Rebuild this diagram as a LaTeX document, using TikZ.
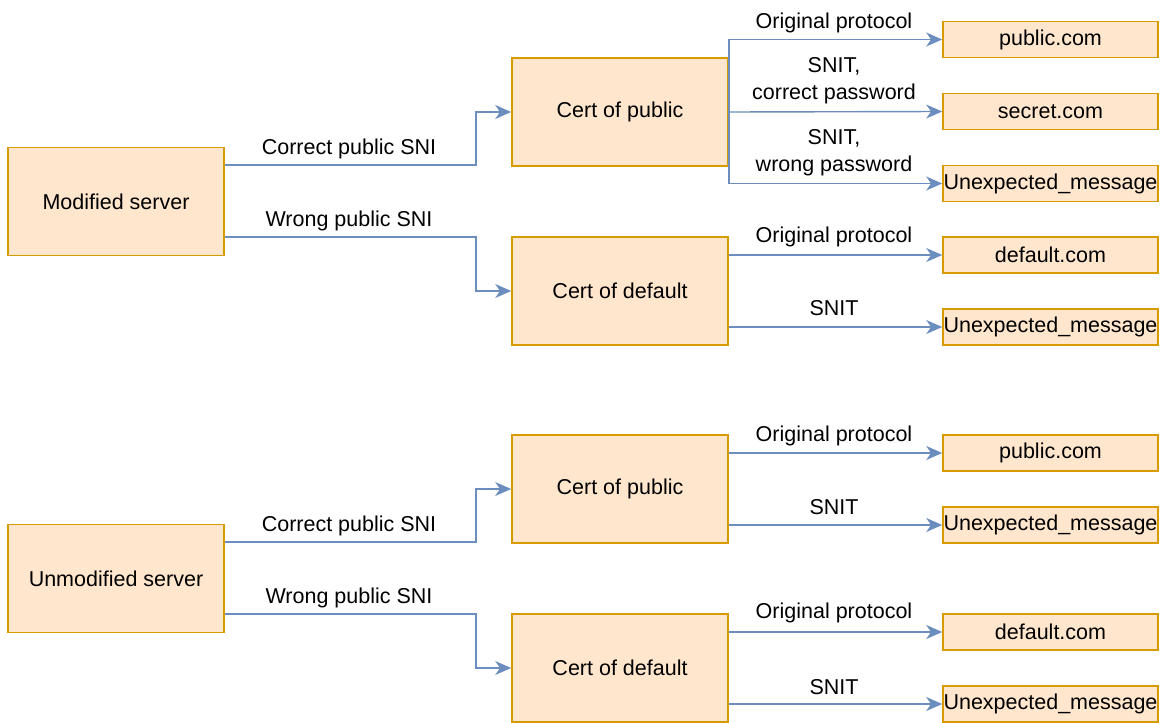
\documentclass[tikz,border=0pt]{standalone}
\usepackage{fontspec}
\setmainfont{Liberation Sans}
\usetikzlibrary{arrows.meta}
\definecolor{boxfill}{HTML}{FFE6CC}
\definecolor{boxline}{HTML}{D79B00}
\definecolor{edgeblue}{HTML}{6C8EBF}
\tikzset{
  box/.style={draw=boxline, fill=boxfill, line width=0.8pt, inner sep=0pt,
    minimum width=108pt, minimum height=54pt},
  leaf/.style={box, minimum width=107.5pt, minimum height=18pt},
  conn/.style={draw=edgeblue, line width=0.7pt,
    -{Stealth[length=8pt, width=7pt, inset=2.4pt]}},
  lbl/.style={inner sep=0pt, align=center}
}
\begin{document}
\begin{tikzpicture}[x=0.5pt, y=-0.5pt,
  every node/.style={font=\fontsize{10.75}{13.5}\selectfont}]
\useasboundingbox (0,0) rectangle (1160,722);

% ---------- modified server ----------
\node[box] (ms)  at (116,201.5) {Modified server};
\node[box] (cp1) at (620,112)   {Cert of public};
\node[box] (cd1) at (620,291)   {Cert of default};
\node[leaf] (pub1) at (1050.5,39.5)  {public.com};
\node[leaf] (sec1) at (1050.5,111.5) {secret.com};
\node[leaf] (unx1) at (1050.5,183.5) {Unexpected\_message};
\node[leaf] (def1) at (1050.5,255)   {default.com};
\node[leaf] (unx2) at (1050.5,327)   {Unexpected\_message};

\draw[conn] (ms.east |- 0,165) -- (476,165) |- (cp1.west);
\draw[conn] (ms.east |- 0,237) -- (476,237) |- (cd1.west);
\draw[conn] (cp1.east) |- (pub1.west);
\draw[conn] (cp1.east) -- (sec1.west);
\draw[conn] (cp1.east) |- (unx1.west);
\draw[conn] (cd1.east |- def1.west) -- (def1.west);
\draw[conn] (cd1.east |- unx2.west) -- (unx2.west);

\node[lbl] (l1) at (349,148.5) {Correct public SNI};
\node[lbl] (l2) at (349,220.5) {Wrong public SNI};
\node[lbl] (l3) at (834,22.5)  {Original protocol};
\node[lbl] (l4) at (834,81)    {SNIT,\\correct password};
\node[lbl] (l5) at (834,153)   {SNIT,\\wrong password};
\node[lbl] (l6) at (834,236.5) {Original protocol};
\node[lbl] (l7) at (834,308.5) {SNIT};

% ---------- unmodified server ----------
\node[box] (us)  at (116,578.5) {Unmodified server};
\node[box] (cp2) at (620,489)   {Cert of public};
\node[box] (cd2) at (620,668)   {Cert of default};
\node[leaf] (pub2) at (1050.5,453) {public.com};
\node[leaf] (unx3) at (1050.5,525) {Unexpected\_message};
\node[leaf] (def2) at (1050.5,632) {default.com};
\node[leaf] (unx4) at (1050.5,704) {Unexpected\_message};

\draw[conn] (us.east |- 0,542) -- (476,542) |- (cp2.west);
\draw[conn] (us.east |- 0,614) -- (476,614) |- (cd2.west);
\draw[conn] (cp2.east |- pub2.west) -- (pub2.west);
\draw[conn] (cp2.east |- unx3.west) -- (unx3.west);
\draw[conn] (cd2.east |- def2.west) -- (def2.west);
\draw[conn] (cd2.east |- unx4.west) -- (unx4.west);

\node[lbl] (l8)  at (349,525.5) {Correct public SNI};
\node[lbl] (l9)  at (349,597.5) {Wrong public SNI};
\node[lbl] (l10) at (834,435.5) {Original protocol};
\node[lbl] (l11) at (834,507.5) {SNIT};
\node[lbl] (l12) at (834,612.5) {Original protocol};
\node[lbl] (l13) at (834,687.5) {SNIT};
\end{tikzpicture}
\end{document}
